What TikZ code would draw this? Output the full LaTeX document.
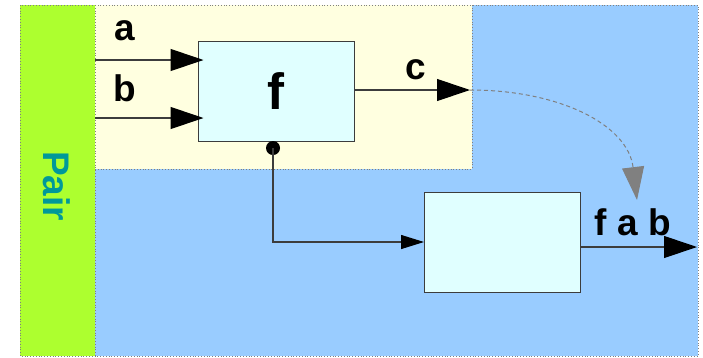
\documentclass[tikz,border=0pt]{standalone}
\usepackage{fontspec}
\setmainfont{Liberation Sans}
\usetikzlibrary{arrows.meta}
\definecolor{stripgreen}{RGB}{173,255,47}
\definecolor{regionyellow}{RGB}{255,255,224}
\definecolor{regionblue}{RGB}{153,204,255}
\definecolor{boxcyan}{RGB}{224,255,255}
\definecolor{pairteal}{RGB}{0,153,153}
\definecolor{linegray}{RGB}{60,60,60}
\definecolor{dashgray}{RGB}{128,128,128}
\begin{document}
\begin{tikzpicture}[x=1pt,y=-1pt,
  region/.style={draw=dashgray, dotted, line width=0.8pt},
  funcbox/.style={draw=linegray, fill=boxcyan, line width=1pt, minimum width=156pt, minimum height=100pt, inner sep=0pt},
  lbl/.style={font=\fontsize{37}{40}\selectfont\bfseries, inner sep=0pt, anchor=base},
  wire/.style={draw=linegray, line width=1.1pt},
  bigtip/.style={-{Triangle[length=33pt,width=22pt,color=black]}},
  smalltip/.style={-{Triangle[length=23pt,width=14pt,color=black]}},
]
\useasboundingbox (0,0) rectangle (703,357);
% regions
\fill[regionblue] (95,5) rectangle (698,356);
\fill[regionyellow] (95,5) rectangle (472,169);
\fill[stripgreen] (20,5) rectangle (95,356);
\draw[region] (20,5) rectangle (698,356);
\draw[region] (95,5) -- (95,356);
\draw[region] (95,169) -- (472,169) -- (472,5);
\node[rotate=-90, text=pairteal, font=\fontsize{37}{40}\selectfont\bfseries, inner sep=0pt] (pair) at (56.5,186) {Pair};
% boxes
\node[funcbox, font=\fontsize{51}{55}\selectfont\bfseries] (f) at (276,91) {f};
\node[funcbox] (low) at (502.5,242) {};
% coordinates
\coordinate (ain) at (95,60);
\coordinate (bin) at (95,118);
\coordinate (cend) at (470,90);
\coordinate (cnext) at (637,200);
\coordinate (tap) at (273,148);
\coordinate (out) at (697,247);
% connectors
\draw[wire,bigtip,shorten >=-6pt] (ain) -- (ain -| f.west);
\draw[wire,bigtip,shorten >=-6pt] (bin) -- (bin -| f.west);
\draw[wire,bigtip] (f.east |- cend) -- (cend);
\draw[dashgray, line width=1pt, dash pattern=on 4pt off 3pt, -{Triangle[length=33pt,width=22pt]}] (cend) .. controls (560,90) and (628,125) .. (cnext);
\fill[black] (tap) circle[radius=7pt];
\draw[wire,smalltip] (tap) |- (low.west);
\draw[wire,bigtip] (low.east |- out) -- (out);
% labels
\node[lbl] (la) at (125,40.5) {a};
\node[lbl] (lb) at (125,101.5) {b};
\node[lbl] (lc) at (415.5,79) {c};
\node[lbl] (lfab) at (633,235) {f a b};
\end{tikzpicture}
\end{document}
